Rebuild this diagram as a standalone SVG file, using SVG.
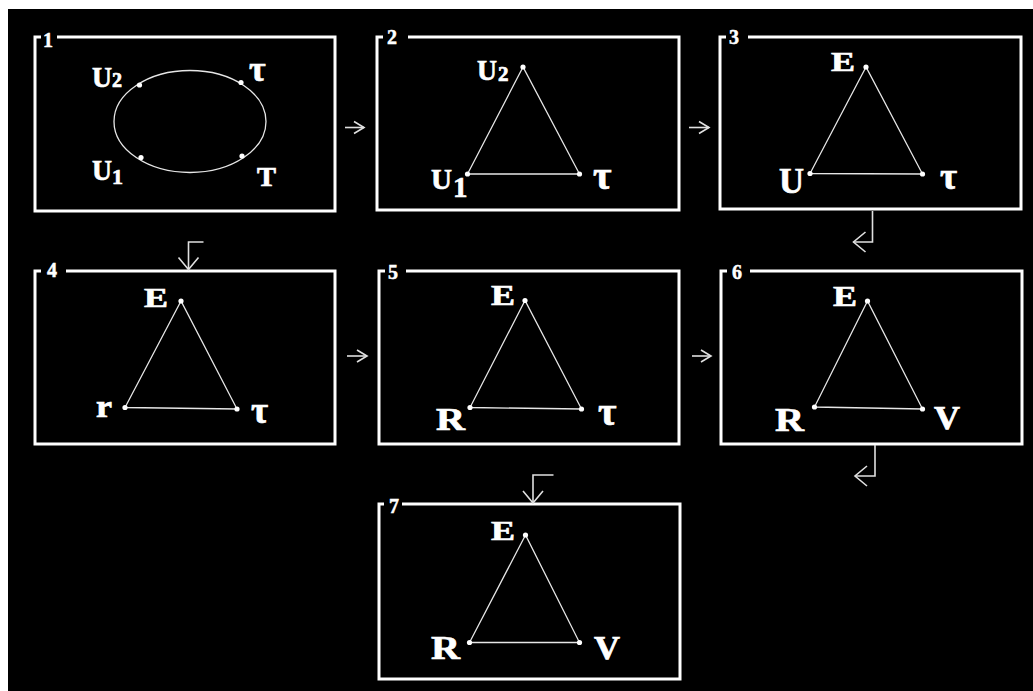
<svg xmlns="http://www.w3.org/2000/svg" width="1033" height="691" viewBox="0 0 1033 691">
<defs>
<style>
.box{fill:none;stroke:#fff;stroke-width:3;stroke-linejoin:miter}
.tri{fill:none;stroke:#e6e6e6;stroke-width:1.3}
.dot{fill:#fff}
.lbl{font-family:"Liberation Serif","Times New Roman",serif;font-weight:bold;fill:#fff;stroke:#fff;stroke-width:0.7px}
.num{font-family:"Liberation Serif","Times New Roman",serif;font-weight:bold;fill:#fff;stroke:#fff;stroke-width:0.5px;font-size:20px}
.conn{fill:none;stroke:#e0e0e0;stroke-width:1.6}
</style>
<marker id="ah" markerUnits="userSpaceOnUse" markerWidth="24" markerHeight="24" viewBox="-12 -12 24 24" refX="0" refY="0" orient="auto">
<path d="M -10 -6 L 0 0 L -10 6" fill="none" stroke="#e0e0e0" stroke-width="1.6"/>
</marker>
<marker id="ahb" markerUnits="userSpaceOnUse" markerWidth="30" markerHeight="30" viewBox="-15 -15 30 30" refX="0" refY="0" orient="auto">
<path d="M -12 -10 L 0 0 L -12 10" fill="none" stroke="#e0e0e0" stroke-width="1.6"/>
</marker>
</defs>
<rect x="0" y="0" width="1033" height="691" fill="#fff"/>
<rect x="8" y="9" width="1025" height="682" fill="#000"/>

<g id="node1">
<path class="box" d="M 41 37 H 35 V 211 H 335 V 37 H 57"/>
<text class="num" x="43" y="47">1</text>
<ellipse cx="190" cy="121.5" rx="76" ry="51" fill="none" stroke="#e6e6e6" stroke-width="1.3"/>
<circle class="dot" cx="139.5" cy="85" r="2.6"/>
<circle class="dot" cx="241" cy="82.5" r="2.6"/>
<circle class="dot" cx="141" cy="157.5" r="2.6"/>
<circle class="dot" cx="242" cy="156" r="2.6"/>
<text class="lbl" x="92" y="87" font-size="30" textLength="20" lengthAdjust="spacingAndGlyphs">U</text>
<text class="lbl" x="112" y="87" font-size="20">2</text>
<text class="lbl" x="249" y="81" font-size="36">τ</text>
<text class="lbl" x="92" y="180" font-size="30" textLength="20" lengthAdjust="spacingAndGlyphs">U</text>
<text class="lbl" x="112" y="184" font-size="22">1</text>
<text class="lbl" x="257" y="186" font-size="27" textLength="19" lengthAdjust="spacingAndGlyphs">T</text>
</g>

<g id="node2">
<path class="box" d="M 383 37 H 377 V 210 H 679 V 37 H 408"/>
<text class="num" x="387" y="44">2</text>
<path class="tri" d="M 523 67 L 467.5 174 L 579.5 174 Z"/>
<circle class="dot" cx="523" cy="67" r="2.6"/>
<circle class="dot" cx="467.5" cy="174" r="2.6"/>
<circle class="dot" cx="579.5" cy="174" r="2.6"/>
<text class="lbl" x="477" y="80" font-size="30" textLength="20" lengthAdjust="spacingAndGlyphs">U</text>
<text class="lbl" x="498" y="81" font-size="21">2</text>
<text class="lbl" x="431" y="189" font-size="30" textLength="21" lengthAdjust="spacingAndGlyphs">U</text>
<text class="lbl" x="453" y="197" font-size="29">1</text>
<text class="lbl" x="593" y="189" font-size="40">τ</text>
</g>

<g id="node3">
<path class="box" d="M 726 37 H 720 V 209 H 1021 V 37 H 748"/>
<text class="num" x="729" y="44">3</text>
<path class="tri" d="M 866 67 L 810 173.5 L 922.5 174 Z"/>
<circle class="dot" cx="866" cy="67" r="2.6"/>
<circle class="dot" cx="810" cy="173.5" r="2.6"/>
<circle class="dot" cx="922.5" cy="174" r="2.6"/>
<text class="lbl" x="831" y="71" font-size="28" textLength="24" lengthAdjust="spacingAndGlyphs">E</text>
<text class="lbl" x="779" y="193" font-size="36" textLength="25" lengthAdjust="spacingAndGlyphs">U</text>
<text class="lbl" x="940" y="189" font-size="37">τ</text>
</g>

<g id="node4">
<path class="box" d="M 41 271 H 35 V 444 H 335 V 271 H 66"/>
<text class="num" x="47" y="277">4</text>
<path class="tri" d="M 181 301 L 125 407.5 L 237 409 Z"/>
<circle class="dot" cx="181" cy="301" r="2.6"/>
<circle class="dot" cx="125" cy="407.5" r="2.6"/>
<circle class="dot" cx="237" cy="409" r="2.6"/>
<text class="lbl" x="144" y="307" font-size="28" textLength="24" lengthAdjust="spacingAndGlyphs">E</text>
<text class="lbl" x="96" y="417" font-size="31" textLength="16" lengthAdjust="spacingAndGlyphs">r</text>
<text class="lbl" x="251" y="423" font-size="37">τ</text>
</g>

<g id="node5">
<path class="box" d="M 385 271 H 379 V 444 H 679 V 271 H 406"/>
<text class="num" x="388" y="279">5</text>
<path class="tri" d="M 525 300.5 L 470 407.5 L 581.5 409 Z"/>
<circle class="dot" cx="525" cy="300.5" r="2.6"/>
<circle class="dot" cx="470" cy="407.5" r="2.6"/>
<circle class="dot" cx="581.5" cy="409" r="2.6"/>
<text class="lbl" x="491" y="305" font-size="30" textLength="24" lengthAdjust="spacingAndGlyphs">E</text>
<text class="lbl" x="436" y="430" font-size="31" textLength="29" lengthAdjust="spacingAndGlyphs">R</text>
<text class="lbl" x="598" y="425" font-size="40">τ</text>
</g>

<g id="node6">
<path class="box" d="M 727 271 H 721 V 444 H 1022 V 271 H 750"/>
<text class="num" x="732" y="279">6</text>
<path class="tri" d="M 867.5 301 L 814.5 407 L 922.5 409 Z"/>
<circle class="dot" cx="867.5" cy="301" r="2.6"/>
<circle class="dot" cx="814.5" cy="407" r="2.6"/>
<circle class="dot" cx="922.5" cy="409" r="2.6"/>
<text class="lbl" x="833" y="305.5" font-size="30" textLength="24" lengthAdjust="spacingAndGlyphs">E</text>
<text class="lbl" x="775" y="430.5" font-size="33" textLength="29" lengthAdjust="spacingAndGlyphs">R</text>
<text class="lbl" x="934" y="428.5" font-size="33" textLength="26" lengthAdjust="spacingAndGlyphs">V</text>
</g>

<g id="node7">
<path class="box" d="M 384 504 H 379 V 679 H 680 V 504 H 402"/>
<text class="num" x="389" y="513">7</text>
<path class="tri" d="M 525.5 535 L 469.5 642.5 L 579.5 642.5 Z"/>
<circle class="dot" cx="525.5" cy="535" r="2.6"/>
<circle class="dot" cx="469.5" cy="642.5" r="2.6"/>
<circle class="dot" cx="579.5" cy="642.5" r="2.6"/>
<text class="lbl" x="491" y="539.5" font-size="28" textLength="24" lengthAdjust="spacingAndGlyphs">E</text>
<text class="lbl" x="431" y="659" font-size="34" textLength="29" lengthAdjust="spacingAndGlyphs">R</text>
<text class="lbl" x="594" y="659" font-size="34" textLength="26" lengthAdjust="spacingAndGlyphs">V</text>
</g>

<g id="connectors">
<line class="conn" x1="345" y1="127.5" x2="364" y2="127.5" marker-end="url(#ah)"/>
<line class="conn" x1="689" y1="127.5" x2="709" y2="127.5" marker-end="url(#ah)"/>
<line class="conn" x1="347" y1="356" x2="367" y2="356" marker-end="url(#ah)"/>
<line class="conn" x1="692" y1="356" x2="711" y2="356" marker-end="url(#ah)"/>
<polyline class="conn" points="872.5,211 872.5,242 853.5,242" marker-end="url(#ahb)"/>
<polyline class="conn" points="203.5,242 188.5,242 188.5,269.5" marker-end="url(#ahb)"/>
<polyline class="conn" points="875,445 875,476 855,476" marker-end="url(#ahb)"/>
<polyline class="conn" points="553.5,475 533,475 533,503" marker-end="url(#ahb)"/>
</g>
</svg>
